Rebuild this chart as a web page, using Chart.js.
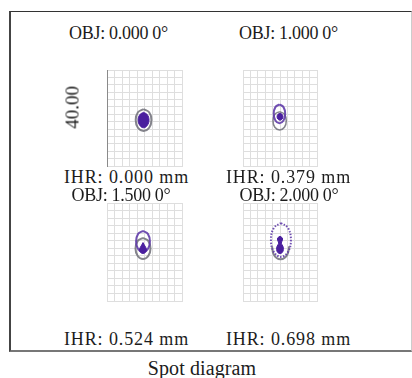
<!DOCTYPE html>
<html>
<head>
<meta charset="utf-8">
<script src="https://cdn.jsdelivr.net/npm/chart.js"></script>
<style>
body { margin: 0; background: #fff; }
#wrap { position: relative; width: 412px; height: 378px; overflow: hidden; font-family: "Liberation Serif", "Times New Roman", serif; color: #1c1c1c; }
#frame { position: absolute; left: 9px; top: 11px; width: 403px; height: 341px; box-sizing: border-box;
  border-top: 1.5px solid #333; border-left: 2px solid #444; border-bottom: 2px solid #777; border-right: 1px solid #ccc; }
.lbl { position: absolute; width: 170px; text-align: center; font-size: 17px; line-height: 17px; white-space: nowrap; }
canvas { position: absolute; }
</style>
</head>
<body>
<div id="wrap">
  <div id="frame"></div>
</div>
<script>
const objLabels = ['OBJ: 0.000 0°', 'OBJ: 1.000 0°', 'OBJ: 1.500 0°', 'OBJ: 2.000 0°']
const ihrLabels = ['IHR: 0.000 mm', 'IHR: 0.379 mm', 'IHR: 0.524 mm', 'IHR: 0.698 mm']
const scaleLabel = '40.00'
const caption = 'Spot diagram'
const xRange = [-20, 20]
const yRange = [-26, 26]
const gridStep = 4

// spot outlines (µm)
const p1Blob = [{x:-0.5,y:3.1},{x:1.5,y:1.8},{x:2.4,y:-1.1},{x:1.5,y:-4.0},{x:-0.5,y:-5.3},{x:-2.5,y:-4.0},{x:-3.4,y:-1.1},{x:-2.5,y:1.8},{x:-0.5,y:3.1}]
const p1Ring = [{x:-0.5,y:4.8},{x:2.5,y:3.1},{x:3.7,y:-1.1},{x:2.5,y:-5.3},{x:-0.5,y:-7.0},{x:-3.5,y:-5.3},{x:-4.7,y:-1.1},{x:-3.5,y:3.1},{x:-0.5,y:4.8}]

const p2Dot = [{x:0,y:2.6},{x:1.1,y:2.0},{x:1.6,y:0.7},{x:1.1,y:-0.6},{x:0,y:-1.2},{x:-1.1,y:-0.6},{x:-1.6,y:0.7},{x:-1.1,y:2.0},{x:0,y:2.6}]
const p2RingTop = [{x:-0.3,y:7.4},{x:1.9,y:5.9},{x:2.8,y:2.3},{x:1.9,y:-1.3},{x:-0.3,y:-2.8},{x:-2.5,y:-1.3},{x:-3.4,y:2.3},{x:-2.5,y:5.9},{x:-0.3,y:7.4}]
const p2RingLow = [{x:-0.2,y:3.5},{x:2.4,y:2.0},{x:3.4,y:-1.5},{x:2.4,y:-5.0},{x:-0.2,y:-6.5},{x:-2.8,y:-5.0},{x:-3.8,y:-1.5},{x:-2.8,y:2.0},{x:-0.2,y:3.5}]

const p3Drop = [{x:-0.8,y:5.0},{x:0.2,y:3.2},{x:1.0,y:1.6},{x:0.7,y:0.0},{x:-0.8,y:-0.8},{x:-2.3,y:0.0},{x:-2.6,y:1.6},{x:-1.8,y:3.2},{x:-0.8,y:5.0}]
const p3RingTop = [{x:-0.8,y:11.2},{x:1.8,y:9.6},{x:2.9,y:5.6},{x:1.8,y:1.6},{x:-0.8,y:0},{x:-3.4,y:1.6},{x:-4.5,y:5.6},{x:-3.4,y:9.6},{x:-0.8,y:11.2}]
const p3RingLow = [{x:-0.8,y:7.5},{x:2.0,y:5.9},{x:3.2,y:1.9},{x:2.0,y:-2.1},{x:-0.8,y:-3.7},{x:-3.6,y:-2.1},{x:-4.8,y:1.9},{x:-3.6,y:5.9},{x:-0.8,y:7.5}]

const p4Key = [{x:0,y:8.3},{x:1.2,y:7.5},{x:1.3,y:6.2},{x:0.7,y:4.7},{x:1.6,y:3.0},{x:1.8,y:1.2},{x:1.2,y:-0.3},{x:0,y:-0.8},{x:-1.2,y:-0.3},{x:-1.8,y:1.2},{x:-1.6,y:3.0},{x:-0.7,y:4.7},{x:-1.3,y:6.2},{x:-1.2,y:7.5},{x:0,y:8.3}]
const p4Dotted = [{x:0.5,y:15.4},{x:4.3,y:12.8},{x:5.9,y:6.4},{x:4.3,y:0.0},{x:0.5,y:-2.6},{x:-3.3,y:0.0},{x:-4.9,y:6.4},{x:-3.3,y:12.8},{x:0.5,y:15.4}]
const p4ArcLow = [{x:-4.3,y:3.0},{x:-3.6,y:-0.8},{x:-1.8,y:-3.2},{x:0.3,y:-3.9},{x:2.4,y:-3.2},{x:4.2,y:-0.8},{x:4.9,y:3.0}]

const PURPLE = '#4a1f9e'
const RING = 'rgba(96,60,170,0.9)'
const GRAY = 'rgba(110,110,120,0.85)'

function ring(data, color, width, dash) {
    return { data: data, showLine: true, borderColor: color, borderWidth: width, borderDash: dash || [],
        pointRadius: 0, tension: 0.4, fill: false }
}

function blob(data, color) {
    return { data: data, showLine: true, borderColor: color, backgroundColor: color, borderWidth: 1,
        pointRadius: 0, tension: 0.4, fill: 'shape' }
}

const panels = [
    { left: 106, top: 69, w: 77, h: 98, axis: true, sets: [blob(p1Blob, PURPLE), ring(p1Ring, GRAY, 2)] },
    { left: 242, top: 69, w: 76, h: 98, sets: [blob(p2Dot, PURPLE), ring(p2RingTop, RING, 2), ring(p2RingLow, GRAY, 1.5)] },
    { left: 106, top: 202, w: 77, h: 100, sets: [blob(p3Drop, PURPLE), ring(p3RingTop, RING, 2), ring(p3RingLow, GRAY, 2)] },
    { left: 242, top: 202, w: 76, h: 100, sets: [blob(p4Key, PURPLE), ring(p4Dotted, RING, 2, [1.5, 1.5]), ring(p4ArcLow, GRAY, 2)] }
]

const wrap = document.getElementById('wrap')

function addLabel(text, cx, top, size, spacing) {
    const d = document.createElement('div')
    d.className = 'lbl'
    d.textContent = text
    d.style.left = (cx - 85) + 'px'
    d.style.top = top + 'px'
    if (size) {
        d.style.fontSize = size + 'px'
        d.style.lineHeight = size + 'px'
    }
    if (spacing) d.style.letterSpacing = spacing + 'px'
    wrap.appendChild(d)
    return d
}

function criarPainel(p) {
    const el = document.createElement('canvas')
    el.width = p.w
    el.height = p.h
    el.style.left = p.left + 'px'
    el.style.top = p.top + 'px'
    wrap.appendChild(el)

    const eixo = (min, max, borda) => ({
        type: 'linear',
        min: min,
        max: max,
        ticks: { display: false, stepSize: gridStep },
        grid: { color: '#dedede', drawTicks: false },
        border: { color: borda }
    })

    new Chart(el, {
        type: 'scatter',
        data: { datasets: p.sets },
        options: {
            responsive: false,
            animation: false,
            events: [],
            layout: { padding: 1 },
            plugins: { legend: { display: false }, tooltip: { enabled: false } },
            scales: {
                x: eixo(xRange[0], xRange[1], '#dedede'),
                y: eixo(yRange[0], yRange[1], p.axis ? '#8a8a8a' : '#dedede')
            }
        }
    })
}

panels.forEach(criarPainel)

addLabel(objLabels[0], 118.5, 24, 18, -0.3)
addLabel(objLabels[1], 288.5, 24, 18, -0.3)
addLabel(ihrLabels[0], 126.5, 168, 18, 0.9)
addLabel(ihrLabels[1], 288.5, 168, 18, 0.9)
addLabel(objLabels[2], 121, 186.3, 18, -0.3)
addLabel(objLabels[3], 289, 186.3, 18, -0.3)
addLabel(ihrLabels[2], 126.5, 330, 18, 0.9)
addLabel(ihrLabels[3], 288.5, 330, 18, 0.9)
addLabel(caption, 202, 358, 20, 0.1)

const esc = addLabel(scaleLabel, 72, 98, 19)
esc.style.transform = 'rotate(-90deg)'
</script>
</body>
</html>
